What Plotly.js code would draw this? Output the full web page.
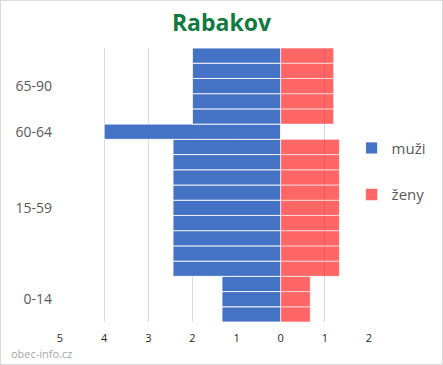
<!DOCTYPE html>
<html>
<head>
<meta charset="utf-8">
<script src="https://cdn.plot.ly/plotly-3.0.1.min.js"></script>
<style>
html,body{margin:0;padding:0;background:#fff;}
#chart{width:441px;height:363px;border:1px solid #d9d9d9;}
</style>
</head>
<body>
<div id="chart"></div>
<script>
// Age groups (bottom to top) and the number of 5-year rows each spans
const groups = ['0-14', '15-59', '60-64', '65-90'];
const groupRows = [3, 9, 1, 5];
// Row positions (bottom to top)
const rows = [1, 2, 3, 4, 5, 6, 7, 8, 9, 10, 11, 12, 13, 14, 15, 16, 17, 18];
// Values per row, bottom to top
const muzi = [1.33, 1.33, 1.33,
  2.44, 2.44, 2.44, 2.44, 2.44, 2.44, 2.44, 2.44, 2.44,
  4,
  2, 2, 2, 2, 2];
const zeny = [0.67, 0.67, 0.67,
  1.33, 1.33, 1.33, 1.33, 1.33, 1.33, 1.33, 1.33, 1.33,
  0,
  1.2, 1.2, 1.2, 1.2, 1.2];
const xTickVals = [-5, -4, -3, -2, -1, 0, 1, 2];
const xTickText = ['5', '4', '3', '2', '1', '0', '1', '2'];

// group centres for y tick labels
const yTickVals = [];
let start = 0.5;
for (let i = 0; i < groups.length; i++) {
  yTickVals.push(start + groupRows[i] / 2);
  start += groupRows[i];
}

const traces = [
  {
    type: 'bar', orientation: 'h', name: 'muži', legendgroup: 'm',
    y: rows, x: muzi.map(v => -v), width: 1,
    marker: {color: '#4472C4', line: {color: 'rgba(255,255,255,0.85)', width: 1}},
    hoverinfo: 'skip'
  },
  {
    type: 'bar', orientation: 'h', name: 'ženy', legendgroup: 'z',
    y: rows, x: zeny, width: 1,
    marker: {color: 'rgba(255,0,0,0.6)', line: {color: 'rgba(255,255,255,0.6)', width: 1}},
    hoverinfo: 'skip'
  }
];

const layout = {
  width: 441, height: 363,
  margin: {l: 59, r: 73, t: 47, b: 42, autoexpand: false},
  paper_bgcolor: '#fff', plot_bgcolor: '#fff',
  font: {family: 'Open Sans, sans-serif', color: '#595959'},
  title: {text: '<b>Rabakov</b>', x: 0.5, xanchor: 'center', y: 0.94, yanchor: 'middle',
          font: {size: 23, color: '#117A3F', family: 'Open Sans, sans-serif'}},
  barmode: 'relative', bargap: 0,
  xaxis: {
    range: [-5, 2], tickvals: xTickVals, ticktext: xTickText,
    showgrid: true, gridcolor: '#d9d9d9', gridwidth: 1, zeroline: false,
    showline: false, ticks: '', ticklabelstandoff: 8,
    tickfont: {size: 11, color: '#262626'}
  },
  yaxis: {
    range: [0.5, 18.5], tickvals: yTickVals, ticktext: groups,
    showgrid: false, zeroline: false, showline: false, ticks: '',
    ticklabelstandoff: 7,
    tickfont: {size: 14, color: '#595959'}
  },
  legend: {
    xref: 'container', yref: 'container',
    x: 0.795, xanchor: 'left', y: 0.64, yanchor: 'top',
    font: {size: 15, color: '#595959'}, tracegroupgap: 24,
    traceorder: 'grouped', itemwidth: 30
  },
  showlegend: true,
  annotations: [{
    text: 'obec-info.cz', xref: 'paper', yref: 'paper',
    x: -59/309, xanchor: 'left', xshift: 8, y: -42/274, yanchor: 'bottom', yshift: 1,
    showarrow: false, font: {size: 11, color: '#a6a6a6'}
  }]
};

Plotly.newPlot('chart', traces, layout, {displayModeBar: false, staticPlot: true});
</script>
</body>
</html>
